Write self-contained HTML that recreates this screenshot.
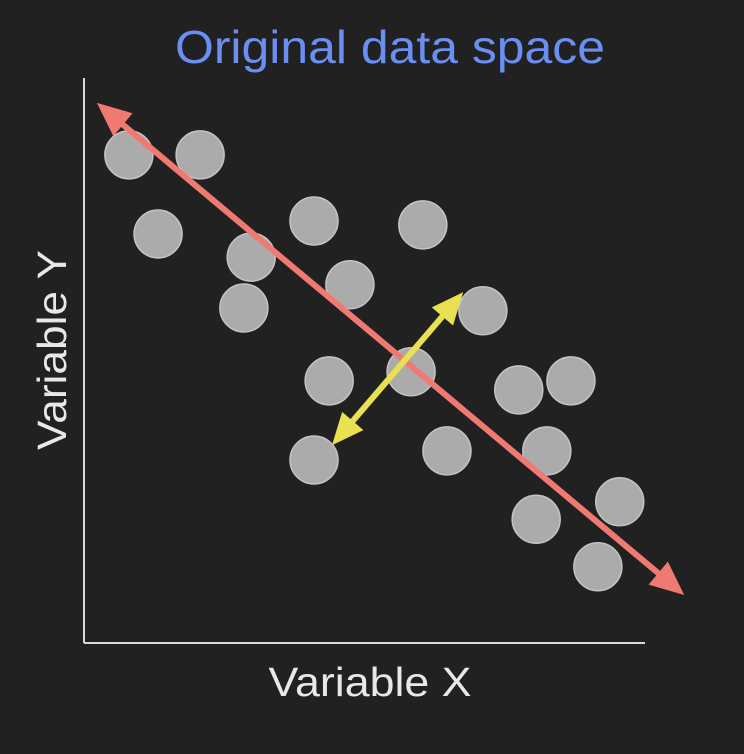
<!DOCTYPE html>
<html><head><meta charset="utf-8"><style>
html,body{margin:0;padding:0;background:#212121;}
svg{display:block;}
</style></head><body>
<svg width="744" height="754" viewBox="0 0 744 754" xmlns="http://www.w3.org/2000/svg">
<rect width="744" height="754" fill="#212121"/>
<text x="390" y="63" text-anchor="middle" font-family="Liberation Sans, sans-serif" font-size="46" textLength="430" lengthAdjust="spacingAndGlyphs" fill="#6b8ef2">Original data space</text>
<line x1="84" y1="78" x2="84" y2="643" stroke="#d8d8d8" stroke-width="2"/>
<line x1="84" y1="643" x2="645" y2="643" stroke="#d8d8d8" stroke-width="2"/>
<text x="370" y="696" text-anchor="middle" font-family="Liberation Sans, sans-serif" font-size="41" textLength="203" lengthAdjust="spacingAndGlyphs" fill="#e8e8e8">Variable X</text>
<text x="0" y="0" transform="translate(66,350) rotate(-90)" text-anchor="middle" font-family="Liberation Sans, sans-serif" font-size="41" textLength="200" lengthAdjust="spacingAndGlyphs" fill="#e8e8e8">Variable Y</text>
<g id="points"></g>
<g id="arrows"></g>
</svg>
<script>
const xValues = [8.0,20.7,13.2,41.0,60.4,29.8,47.4,28.5,71.1,43.7,58.3,77.5,86.8,41.0,64.7,82.5,95.5,80.6,91.6];
const yValues = [86.4,86.4,72.4,74.7,74.0,68.3,63.4,59.3,58.8,46.4,48.0,44.8,46.4,32.4,34.0,34.0,25.0,21.9,13.5];
const pc1Start = [2.3,95.6];
const pc1End = [107,8.5];
const pc2Start = [67.6,62.1];
const pc2End = [44.2,35.0];
const NS="http://www.w3.org/2000/svg";
function sx(v){return 84+v*5.61;}
function sy(v){return 643-v*5.65;}
const pg=document.getElementById('points');
for(let i=0;i<xValues.length;i++){
  const c=document.createElementNS(NS,'circle');
  c.setAttribute('cx',sx(xValues[i]));c.setAttribute('cy',sy(yValues[i]));
  c.setAttribute('r',24);c.setAttribute('fill','#ababab');
  c.setAttribute('stroke','#c4c4c4');c.setAttribute('stroke-width','1.5');
  
  
  pg.appendChild(c);
}
const ag=document.getElementById('arrows');
function arrow(a,b,color,w,hl,hw,name){
  const x1=sx(a[0]),y1=sy(a[1]),x2=sx(b[0]),y2=sy(b[1]);
  const dx=x2-x1,dy=y2-y1,L=Math.hypot(dx,dy),ux=dx/L,uy=dy/L,nx=-uy,ny=ux;
  const g=document.createElementNS(NS,'g');
  
  
  const ln=document.createElementNS(NS,'line');
  ln.setAttribute('x1',x1+ux*hl*0.8);ln.setAttribute('y1',y1+uy*hl*0.8);
  ln.setAttribute('x2',x2-ux*hl*0.8);ln.setAttribute('y2',y2-uy*hl*0.8);
  ln.setAttribute('stroke',color);ln.setAttribute('stroke-width',w);
  g.appendChild(ln);
  [[x1,y1,1],[x2,y2,-1]].forEach(([px,py,s])=>{
    const bx=px+s*ux*hl,by=py+s*uy*hl;
    const p=document.createElementNS(NS,'polygon');
    p.setAttribute('points',`${px},${py} ${bx+nx*hw},${by+ny*hw} ${bx-nx*hw},${by-ny*hw}`);
    p.setAttribute('fill',color);
    g.appendChild(p);
  });
  ag.appendChild(g);
}
arrow(pc1Start,pc1End,'#f07a72',6,34,15,'principal-component-1-arrow');
arrow(pc2Start,pc2End,'#e9e052',6,32,14,'principal-component-2-arrow');
</script>
</body></html>
